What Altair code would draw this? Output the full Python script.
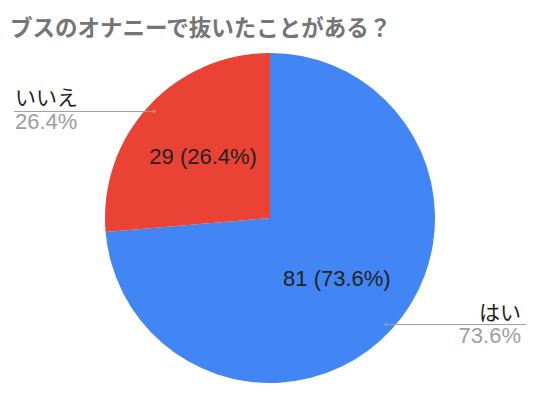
import altair as alt
import pandas as pd
import numpy as np

title = "ブスのオナニーで抜いたことがある？"
labels = ["はい", "いいえ"]
counts = [81, 29]
colors = ["#4285f4", "#ea4335"]

FONT = "Liberation Sans, Arial, Noto Sans CJK JP, sans-serif"

total = sum(counts)
pcts = [c / total * 100 for c in counts]

# layout (pixels) and pie geometry expressed in pie-radius units
R = 165
W, H = 524, 341
CX, CY = 262, 170
xdom = [-CX / R, (W - CX) / R]
ydom = [-(H - CY) / R, CY / R]
xscale = alt.Scale(domain=xdom, nice=False, zero=False)
yscale = alt.Scale(domain=ydom, nice=False, zero=False)

pie_rows, lab_rows = [], []
start = 0.0
for i, (lab, c, p) in enumerate(zip(labels, counts, pcts)):
    frac = c / total
    mid = (start + frac / 2) * 2 * np.pi
    start += frac
    s, co = np.sin(mid), np.cos(mid)
    pie_rows.append({"label": lab, "count": c, "order": i, "cx": 0.0, "cy": 0.0})
    left = s < 0
    end_u = xdom[0] + 6 / R if left else xdom[1] - 6 / R
    text_u = end_u + (1 / R if left else -5 / R)
    lab_rows.append({
        "label": lab,
        "inner": f"{c} ({p:.1f}%)",
        "pct": f"{p:.1f}%",
        "iu": 0.55 * s, "iv": 0.55 * co,
        "du": 0.955 * s, "dv": 0.955 * co,
        "eu": end_u, "tu": text_u,
        "align": "left" if left else "right",
    })

pie_df = pd.DataFrame(pie_rows)
lab_df = pd.DataFrame(lab_rows)
title_df = pd.DataFrame([{"t": title, "u": xdom[0] + 2 / R, "v": (CY + 12) / R}])

X = lambda f: alt.X(f, type="quantitative", scale=xscale, axis=None)
Y = lambda f: alt.Y(f, type="quantitative", scale=yscale, axis=None)

pie = alt.Chart(pie_df).mark_arc(outerRadius=R).encode(
    theta=alt.Theta("count:Q", stack=True),
    color=alt.Color("label:N", scale=alt.Scale(domain=labels, range=colors), legend=None),
    order=alt.Order("order:Q"),
    x=X("cx"),
    y=Y("cy"),
)

inner = alt.Chart(lab_df).mark_text(
    fontSize=22, font=FONT, color="#222222", baseline="middle", align="center"
).encode(x=X("iu"), y=Y("iv"), text="inner:N")

leader = alt.Chart(lab_df).mark_rule(color="#9e9e9e", strokeWidth=1).encode(
    x=X("du"), x2="eu:Q", y=Y("dv")
)
dots = alt.Chart(lab_df).mark_point(filled=True, color="#9e9e9e", size=10, opacity=1).encode(
    x=X("du"), y=Y("dv")
)

names_l = alt.Chart(lab_df[lab_df["align"] == "left"]).mark_text(
    fontSize=21, font=FONT, color="#222222", align="left", baseline="alphabetic", dy=-6
).encode(x=X("tu"), y=Y("dv"), text="label:N")
pcts_l = alt.Chart(lab_df[lab_df["align"] == "left"]).mark_text(
    fontSize=22, font=FONT, color="#9e9e9e", align="left", baseline="alphabetic", dy=18
).encode(x=X("tu"), y=Y("dv"), text="pct:N")
names_r = alt.Chart(lab_df[lab_df["align"] == "right"]).mark_text(
    fontSize=21, font=FONT, color="#222222", align="right", baseline="alphabetic", dy=-5
).encode(x=X("tu"), y=Y("dv"), text="label:N")
pcts_r = alt.Chart(lab_df[lab_df["align"] == "right"]).mark_text(
    fontSize=22, font=FONT, color="#9e9e9e", align="right", baseline="alphabetic", dy=18
).encode(x=X("tu"), y=Y("dv"), text="pct:N")

title_mark = alt.Chart(title_df).mark_text(
    fontSize=22.5, fontWeight="bold", color="#757575", font="Noto Sans CJK JP, sans-serif",
    align="left", baseline="alphabetic",
).encode(x=X("u"), y=Y("v"), text="t:N")

chart = alt.layer(pie, inner, leader, dots, names_l, pcts_l, names_r, pcts_r, title_mark).properties(
    width=W,
    height=H,
    autosize=alt.AutoSizeParams(type="none"),
    padding={"left": 0, "top": 40, "right": 0, "bottom": 0},
).configure_view(stroke=None)

chart.save("out.html", embed_options={"renderer": "svg", "actions": False})
